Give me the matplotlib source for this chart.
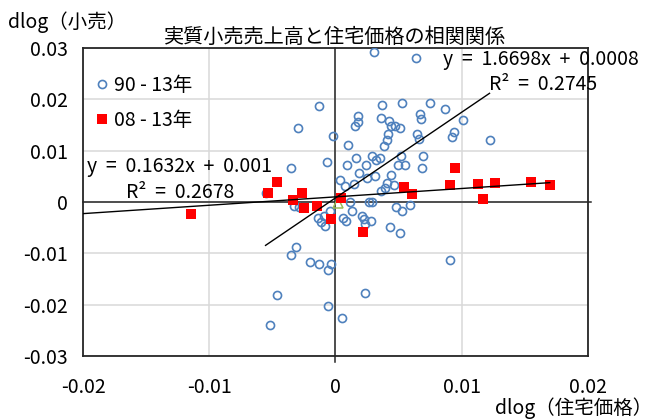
import numpy as np
import matplotlib
matplotlib.use("Agg")
import matplotlib.pyplot as plt

plt.rcParams['font.family'] = ['Noto Sans CJK JP', 'DejaVu Sans']
plt.rcParams['font.size'] = 14

# 90 - 13年 (dlog 住宅価格, dlog 小売)
x_90 = [0.00303, 0.00639, -0.00127, 0.00370, 0.00525, 0.00747, 0.00871, 0.00182,
        0.00178, 0.00154, 0.00359, 0.00424, 0.00673, 0.00679, 0.01011, 0.00436,
        0.00475, 0.00509, 0.00416, 0.00404, 0.00383, 0.00647, 0.00660, 0.00937,
        0.00920, 0.01220, -0.00020, 0.00099, -0.00295, -0.00067, 0.00166, 0.00093,
        0.00243, 0.00293, 0.00317, 0.00356, 0.00515, 0.00697, 0.00495, 0.00554,
        0.00683, 0.00185, 0.00309, 0.00251, 0.00441, 0.00037, 0.00145, 0.00079,
        0.00404, 0.00462, 0.00396, 0.00360, 0.00113, 0.00264, 0.00293, 0.00481,
        0.00528, 0.00589, 0.00132, -0.00045, 0.00211, 0.00226, 0.00230, 0.00285,
        -0.00139, -0.00095, -0.00111, -0.00083, 0.00059, 0.00085, 0.00430, 0.00509,
        0.00905, -0.00204, -0.00132, -0.00059, -0.00036, 0.00231, -0.00061, 0.00055,
        -0.00467, -0.00515, -0.00309, -0.00356, -0.00356, -0.00554, -0.00325, -0.00293]
y_90 = [0.02922, 0.02805, 0.01876, 0.01890, 0.01921, 0.01934, 0.01812, 0.01681,
        0.01551, 0.01486, 0.01642, 0.01574, 0.01710, 0.01623, 0.01590, 0.01486,
        0.01477, 0.01447, 0.01330, 0.01214, 0.01083, 0.01325, 0.01233, 0.01356,
        0.01266, 0.01200, 0.01278, 0.01120, 0.01438, 0.00771, 0.00859, 0.00717,
        0.00713, 0.00892, 0.00824, 0.00853, 0.00888, 0.00902, 0.00727, 0.00727,
        0.00672, 0.00565, 0.00499, 0.00468, 0.00518, 0.00434, 0.00343, 0.00304,
        0.00370, 0.00337, 0.00273, 0.00206, 0.00000, 0.00006, 0.00006, -0.00092,
        -0.00169, -0.00058, -0.00175, -0.00183, -0.00277, -0.00335, -0.00429, -0.00364,
        -0.00316, -0.00277, -0.00384, -0.00471, -0.00312, -0.00378, -0.00495, -0.00604,
        -0.01124, -0.01173, -0.01208, -0.01319, -0.01208, -0.01777, -0.02034, -0.02268,
        -0.01820, -0.02400, -0.00881, -0.01040, 0.00655, 0.00181, -0.00072, -0.00101]

# 08 - 13年
x_08 = [-0.01143, -0.00536, -0.00462, -0.00338, -0.00264, -0.00251, -0.00150,
        -0.00032, 0.00045, 0.00216, 0.00541, 0.00608, 0.00903, 0.00945, 0.01130,
        0.01262, 0.01170, 0.01545, 0.01697]
y_08 = [-0.00234, 0.00175, 0.00382, 0.00045, 0.00175, -0.00125, -0.00078,
        -0.00325, 0.00070, -0.00584, 0.00284, 0.00156, 0.00323, 0.00662, 0.00351,
        0.00370, 0.00064, 0.00390, 0.00323]

# third series (single point)
x_3 = [0.00020]
y_3 = [-0.00020]

# trendline coefficients shown on the chart
fit_90 = (1.6698, 0.0008, 0.2745)
fit_08 = (0.1632, 0.001, 0.2678)

fig = plt.figure(figsize=(6.56, 4.19), dpi=100)
ax = fig.add_axes([83 / 656, 1 - 356 / 419, 505 / 656, 308 / 419])

ax.set_xlim(-0.02, 0.02)
ax.set_ylim(-0.03, 0.03)
ax.set_xticks([-0.02, -0.01, 0, 0.01, 0.02])
ax.set_xticklabels(['-0.02', '-0.01', '0', '0.01', '0.02'])
ax.set_yticks([-0.03, -0.02, -0.01, 0, 0.01, 0.02, 0.03])
ax.set_yticklabels(['-0.03', '-0.02', '-0.01', '0', '0.01', '0.02', '0.03'])
ax.tick_params(axis='both', length=0)
ax.tick_params(axis='x', pad=15)
ax.tick_params(axis='y', pad=11)
ax.grid(True, color='#d9d9d9', lw=1.1)
ax.set_axisbelow(True)
for s in ax.spines.values():
    s.set_color('#262626')
    s.set_linewidth(1.3)

# zero axes
ax.axvline(0, color='#262626', lw=1.1, ymin=-0.018, clip_on=False, zorder=1.5)
ax.axhline(0, color='#262626', lw=1.1, xmax=1.006, clip_on=False, zorder=1.5)

ax.plot(x_90, y_90, 'o', ms=5.8, mfc='none', mec='#4F81BD', mew=1.2, label='90 - 13年', zorder=3)
ax.plot(x_08, y_08, 's', ms=6.6, color='#FF0000', mew=0, label='08 - 13年', zorder=4)
ax.plot(x_3, y_3, '^', ms=7, mfc='none', mec='#9BBB59', mew=1.1, zorder=3)

# trendlines
xb = np.array([min(x_90), max(x_90)])
ax.plot(xb, fit_90[0] * xb + fit_90[1], color='black', lw=1.0, zorder=5)
xr = np.array([-0.02, max(x_08)])
ax.plot(xr, fit_08[0] * xr + fit_08[1], color='black', lw=1.0, zorder=5)

ax.text(0.00855, 0.0277, f'y  =  {fit_90[0]}x  +  {fit_90[1]}', va='center', ha='left', zorder=6, clip_on=False)
ax.text(0.01212, 0.0228, f'R²  =  {fit_90[2]}', va='center', ha='left', zorder=6)
ax.text(-0.01972, 0.00687, f'y  =  {fit_08[0]}x  +  {fit_08[1]}', va='center', ha='left', zorder=6)
ax.text(-0.01663, 0.0018, f'R²  =  {fit_08[2]}', va='center', ha='left', zorder=6)

ax.legend(loc='upper left', bbox_to_anchor=(0.0, 0.95), frameon=False,
          handlelength=0.8, handletextpad=0.2, labelspacing=0.7, borderaxespad=0.2)

ax.set_title('実質小売売上高と住宅価格の相関関係', fontsize=14.5, pad=2)
fig.text(8 / 656, 1 - 22 / 419, 'dlog（小売）', va='center', ha='left')
fig.text(652 / 656, 1 - 408 / 419, 'dlog（住宅価格）', va='center', ha='right')

fig.savefig('out.png', dpi=100)
